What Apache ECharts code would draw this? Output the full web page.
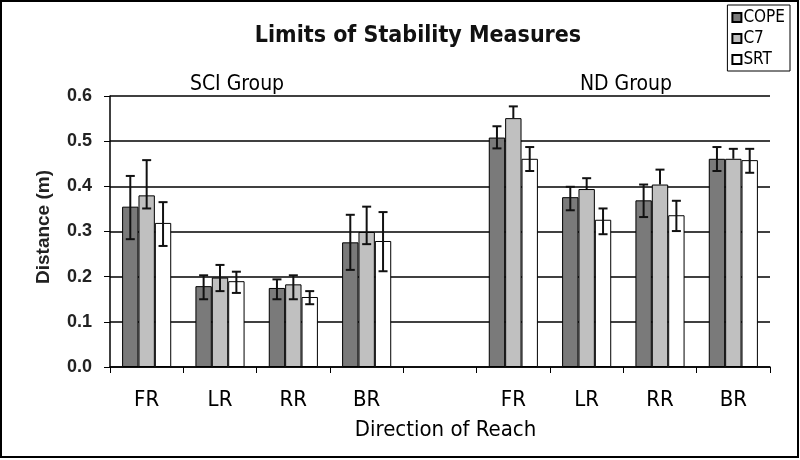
<!DOCTYPE html>
<html>
<head>
<meta charset="utf-8">
<script src="https://cdn.jsdelivr.net/npm/echarts@6/dist/echarts.min.js"></script>
<style>html,body{margin:0;padding:0;background:#fff;}#c{width:800px;height:460px;}</style>
</head>
<body>
<div id="c"></div>
<script>
// ---- data ----
var categories = ['FR', 'LR', 'RR', 'BR', '', 'FR', 'LR', 'RR', 'BR'];
var seriesNames = ['COPE', 'C7', 'SRT'];
var copeValues = [0.355, 0.179, 0.175, 0.276, null, 0.508, 0.376, 0.369, 0.461];
var c7Values   = [0.380, 0.198, 0.183, 0.299, null, 0.551, 0.394, 0.404, 0.461];
var srtValues  = [0.319, 0.190, 0.155, 0.279, null, 0.461, 0.326, 0.336, 0.458];
// error bar ends (null low = only upper whisker visible)
var copeHigh = [0.423, 0.203, 0.194, 0.337, null, 0.533, 0.399, 0.404, 0.487];
var copeLow  = [0.283, 0.150, 0.150, 0.215, null, 0.484, 0.347, 0.332, 0.434];
var c7High   = [0.458, 0.226, 0.203, 0.355, null, 0.577, 0.418, 0.437, 0.483];
var c7Low    = [0.351, 0.168, 0.150, 0.272, null, null, null, null, null];
var srtHigh  = [0.365, 0.211, 0.168, 0.343, null, 0.487, 0.351, 0.368, 0.483];
var srtLow   = [0.268, 0.164, 0.139, 0.212, null, 0.434, 0.294, 0.301, 0.430];
var yTicks = [0.0, 0.1, 0.2, 0.3, 0.4, 0.5, 0.6];

var valuesList = [copeValues, c7Values, srtValues];
var highList = [copeHigh, c7High, srtHigh];
var lowList = [copeLow, c7Low, srtLow];
var colors = ['#7a7a7a', '#c0c0c0', '#ffffff'];
var NARROW = "'Liberation Sans Narrow', 'DejaVu Sans Condensed', Arial, sans-serif";
var SANS = "'Liberation Sans', Arial, sans-serif";
var CAT_GAP = 0.33;

var errData = [];
for (var s = 0; s < 3; s++) {
  for (var i = 0; i < categories.length; i++) {
    if (valuesList[s][i] == null) continue;
    var lo = lowList[s][i];
    errData.push([i, s, lo == null ? valuesList[s][i] : lo, highList[s][i], lo == null ? 0 : 1]);
  }
}

var series = seriesNames.map(function (n, s) {
  return {
    name: n, type: 'bar', data: valuesList[s],
    barGap: '0%', barCategoryGap: (CAT_GAP * 100) + '%',
    itemStyle: { color: colors[s], borderColor: '#000', borderWidth: 1 },
    emphasis: { disabled: true }
  };
});
series.push({
  type: 'custom', name: 'err', coordinateSystem: 'cartesian2d', z: 10,
  data: errData, encode: { x: 0, y: [2, 3] },
  renderItem: function (params, api) {
    var cat = api.value(0), s = api.value(1), lo = api.value(2), hi = api.value(3), hasLow = api.value(4);
    var band = api.size([1, 0])[0];
    var bw = band * (1 - CAT_GAP) / 3;
    var xc = api.coord([cat, 0])[0] + (s - 1) * bw;
    var yh = api.coord([cat, hi])[1];
    var yl = api.coord([cat, lo])[1];
    var cw = 4.5;
    var st = { stroke: '#111', lineWidth: 2 };
    var kids = [
      { type: 'line', shape: { x1: xc, y1: yh, x2: xc, y2: yl }, style: st },
      { type: 'line', shape: { x1: xc - cw, y1: yh, x2: xc + cw, y2: yh }, style: st }
    ];
    if (hasLow) kids.push({ type: 'line', shape: { x1: xc - cw, y1: yl, x2: xc + cw, y2: yl }, style: st });
    return { type: 'group', children: kids };
  }
});

var chart = echarts.init(document.getElementById('c'), null, { renderer: 'canvas' });
chart.setOption({
  animation: false,
  backgroundColor: '#fff',
  grid: { left: 110, right: 30, top: 96, bottom: 93 },
  legend: {
    data: seriesNames, orient: 'vertical', right: 10, top: 5,
    borderColor: '#000', borderWidth: 1, padding: [4, 5, 3, 4],
    itemGap: 4, itemWidth: 9, itemHeight: 9, icon: 'rect',
    textStyle: { fontFamily: NARROW, fontSize: 17, color: '#000', padding: [0, 0, 0, -3] }
  },
  xAxis: {
    type: 'category', data: categories,
    axisLine: { lineStyle: { color: '#000', width: 1.5 } },
    axisTick: { show: true, length: 6, lineStyle: { color: '#000' } },
    axisLabel: { margin: 22, fontFamily: NARROW, fontSize: 22, color: '#000', interval: 0 },
    name: 'Direction of Reach', nameLocation: 'middle', nameGap: 52,
    nameTextStyle: { fontFamily: NARROW, fontSize: 22, color: '#000', padding: [0, 0, 0, 11] }
  },
  yAxis: {
    type: 'value', min: yTicks[0], max: yTicks[yTicks.length - 1], interval: 0.1,
    axisLine: { show: true, lineStyle: { color: '#000', width: 1.5 } },
    axisTick: { show: true, length: 6, lineStyle: { color: '#000' } },
    axisLabel: { margin: 18, fontFamily: SANS, fontWeight: 'bold', fontSize: 18, color: '#222',
      formatter: function (v) { return v.toFixed(1); } },
    splitLine: { show: true, lineStyle: { color: '#000', width: 1.5 } },
    name: 'Distance (m)', nameLocation: 'middle', nameRotate: 90, nameGap: 57,
    nameTextStyle: { fontFamily: SANS, fontWeight: 'bold', fontSize: 19, color: '#222', padding: [0, 0, 0, 9] }
  },
  graphic: [
    { type: 'rect', shape: { x: 1, y: 1, width: 797, height: 456 }, style: { fill: null, stroke: '#000', lineWidth: 2 }, silent: true },
    { type: 'text', x: 418, y: 36, style: { text: 'Limits of Stability Measures', textAlign: 'center', textVerticalAlign: 'middle', font: "bold 23px " + NARROW, fill: '#111' } },
    { type: 'text', x: 237, y: 85, style: { text: 'SCI Group', textAlign: 'center', textVerticalAlign: 'middle', font: "21px " + NARROW, fill: '#000' } },
    { type: 'text', x: 626, y: 85, style: { text: 'ND Group', textAlign: 'center', textVerticalAlign: 'middle', font: "21px " + NARROW, fill: '#000' } }
  ],
  series: series
});
</script>
</body>
</html>
